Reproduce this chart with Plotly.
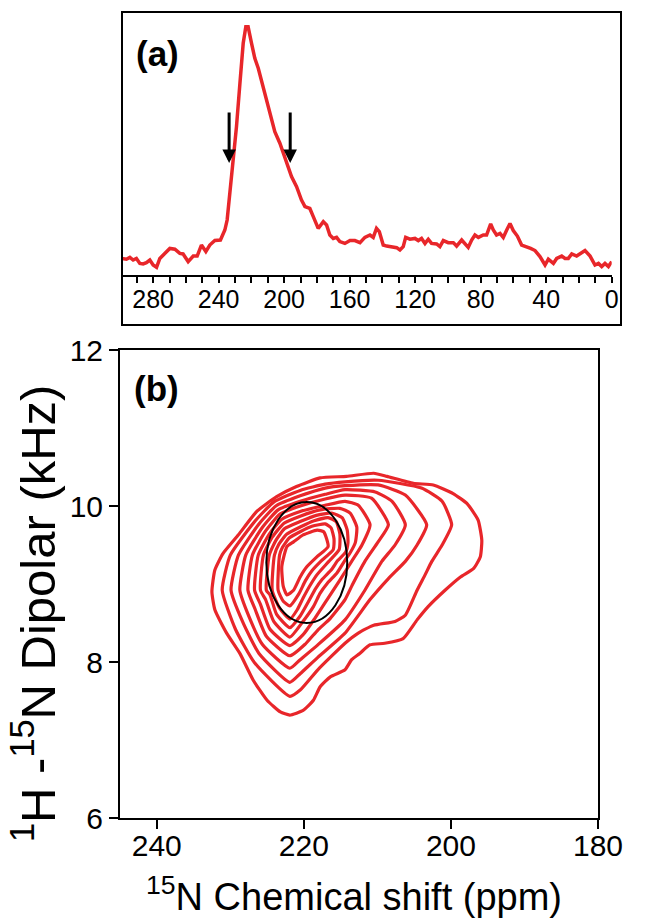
import plotly.graph_objects as go

RED = "#E8262A"
FONT = "Liberation Sans, Arial, sans-serif"

# ---------------- Panel (a): 1D 15N spectrum ----------------
spec_ppm = [299.1, 296.3, 294.2, 292.2, 290.2, 288.1, 286.1, 284.1, 282.0, 280.0,
            277.9, 275.9, 272.9, 269.8, 266.7, 263.7, 261.7, 258.6, 255.5, 253.1,
            250.5, 247.8, 245.4, 242.3, 238.9, 236.2, 234.8, 233.2, 231.1, 229.1,
            227.0, 225.0, 223.4, 222.0, 219.9, 217.9, 215.8, 212.8, 210.8, 208.7,
            205.7, 202.6, 199.6, 195.5, 192.4, 189.4, 187.3, 184.3, 182.2, 179.2,
            176.1, 174.1, 172.1, 170.0, 168.0, 166.0, 162.9, 159.8, 156.8, 153.7,
            150.7, 147.6, 145.6, 143.6, 141.9, 139.5, 137.4, 134.4, 131.3, 129.3,
            127.3, 125.8, 123.2, 120.1, 118.1, 116.1, 114.0, 112.0, 110.0, 106.9,
            104.9, 102.8, 99.8, 96.7, 94.7, 91.6, 89.6, 87.6, 85.5, 83.5,
            81.4, 78.4, 76.4, 73.9, 72.3, 70.3, 68.2, 66.2, 64.1, 62.1,
            60.1, 57.6, 55.0, 51.9, 49.5, 46.8, 43.8, 40.7, 38.7, 35.6,
            33.6, 30.5, 28.5, 26.5, 24.4, 21.4, 19.3, 16.3, 13.2, 10.2,
            8.1, 6.1, 4.1, 2.0, 0.0]
spec_int = [6.3, 6.0, 6.7, 5.7, 6.3, 4.4, 4.2, 4.7, 5.7, 3.8,
            2.9, 6.3, 8.2, 10.1, 9.8, 8.2, 8.0, 5.1, 7.2, 7.2,
            11.4, 8.9, 11.4, 13.1, 13.3, 17.1, 20.9, 31.1, 42.5, 56.4,
            72.9, 88.1, 94.4, 94.4, 88.1, 82.4, 78.6, 71.6, 66.5, 61.5,
            54.5, 50.1, 45.0, 37.4, 33.6, 28.5, 26.0, 25.3, 22.2, 17.7,
            20.3, 19.0, 15.2, 13.9, 14.3, 12.7, 12.0, 13.1, 13.1, 12.3,
            14.3, 15.2, 14.3, 17.7, 16.5, 11.4, 11.0, 10.8, 10.4, 9.5,
            10.8, 14.3, 13.6, 13.9, 13.1, 13.9, 12.0, 13.6, 12.0, 11.8,
            10.8, 13.1, 12.3, 12.3, 11.0, 13.3, 12.0, 10.5, 13.3, 15.2,
            14.3, 15.2, 15.2, 19.4, 17.1, 15.2, 15.8, 14.3, 17.1, 19.6,
            16.9, 14.8, 11.4, 10.8, 10.1, 9.3, 7.0, 3.8, 6.0, 4.4,
            6.3, 7.2, 6.3, 6.3, 8.0, 7.2, 8.0, 9.3, 7.2, 3.8,
            4.4, 3.2, 4.4, 3.2, 5.1]

arrow_ppm = [233.6, 196.3]
arrow_tail = 62.4
arrow_head = 42.6

top_tickvals = list(range(0, 300, 10))
top_ticktext = [str(v) if v % 40 == 0 else "" for v in top_tickvals]

# ---------------- Panel (b): 2D PISEMA contours (outer c0 -> inner c10) ----------------
c0_x = [232.5, 232.1, 231.0, 228.9, 226.4, 223.7, 221.0, 217.8, 214.2, 210.5, 208.7, 205.1, 202.4,
        199.7, 197.8, 196.3, 195.8, 196.0, 196.9, 198.7, 200.8, 203.1, 204.6, 206.5, 209.0, 211.0,
        212.4, 213.5, 214.4, 216.4, 217.8, 218.7, 220.1, 221.9, 223.2, 225.0, 226.9, 228.7, 230.5, 232.1]
c0_y = [8.90, 9.18, 9.39, 9.63, 9.93, 10.12, 10.25, 10.36, 10.38, 10.42, 10.38, 10.29, 10.27,
        10.16, 10.03, 9.82, 9.56, 9.35, 9.20, 9.09, 8.92, 8.71, 8.54, 8.30, 8.24, 8.22,
        8.11, 8.03, 7.90, 7.81, 7.68, 7.51, 7.38, 7.32, 7.36, 7.51, 7.77, 8.11, 8.37, 8.67]
c1_x = [231.1, 230.0, 226.6, 224.1, 220.5, 217.1, 214.4, 209.9, 204.0, 201.2, 199.9, 201.2, 202.6,
        203.5, 204.6, 206.2, 207.6, 210.5, 212.6, 214.4, 218.1, 220.5, 221.9, 226.7, 229.3]
c1_y = [8.92, 9.37, 9.81, 10.05, 10.20, 10.28, 10.31, 10.33, 10.23, 10.06, 9.76, 9.50, 9.29,
        9.12, 8.92, 8.60, 8.52, 8.47, 8.37, 8.24, 7.90, 7.64, 7.56, 7.99, 8.42]
c2_x = [229.9, 228.9, 226.1, 223.8, 220.5, 217.1, 214.4, 209.9, 206.2, 203.3, 204.6, 206.2, 208.5,
        211.0, 214.4, 218.1, 220.5, 221.9, 226.1, 228.3]
c2_y = [8.92, 9.37, 9.77, 10.00, 10.13, 10.23, 10.26, 10.27, 10.14, 9.76, 9.50, 9.29, 9.07,
        8.80, 8.37, 8.06, 7.85, 7.74, 8.11, 8.51]
c3_x = [228.7, 227.9, 225.6, 223.5, 220.5, 217.1, 214.4, 210.3, 208.0, 206.2, 207.6, 209.4, 211.7,
        214.4, 218.1, 220.5, 221.9, 225.6, 227.5]
c3_y = [8.92, 9.37, 9.73, 9.95, 10.06, 10.15, 10.21, 10.18, 10.06, 9.76, 9.50, 9.29, 8.92,
        8.54, 8.22, 8.03, 7.92, 8.22, 8.59]
c4_x = [227.6, 227.0, 225.2, 223.2, 220.5, 217.1, 214.4, 210.8, 208.5, 209.9, 211.7, 213.4, 214.4,
        216.4, 218.1, 219.8, 221.9, 225.1, 226.6]
c4_y = [8.92, 9.37, 9.68, 9.90, 10.00, 10.09, 10.14, 10.10, 9.76, 9.54, 9.29, 8.99, 8.80,
        8.56, 8.41, 8.23, 8.08, 8.33, 8.67]
c5_x = [226.7, 226.2, 224.7, 223.0, 220.5, 217.1, 214.4, 212.6, 211.0, 212.1, 213.5, 215.1, 216.7,
        218.5, 220.1, 221.9, 224.6, 225.9]
c5_y = [8.92, 9.37, 9.64, 9.83, 9.93, 10.01, 10.06, 10.01, 9.76, 9.50, 9.29, 9.05, 8.82,
        8.56, 8.35, 8.21, 8.42, 8.74]
c6_x = [225.9, 225.5, 224.3, 222.7, 220.5, 217.8, 215.1, 213.7, 212.8, 213.0, 213.7, 214.5, 215.5,
        216.8, 217.8, 218.7, 220.2, 221.9, 224.1, 225.2]
c6_y = [8.92, 9.37, 9.60, 9.78, 9.87, 9.95, 9.97, 9.91, 9.73, 9.53, 9.40, 9.29, 9.14,
        9.01, 8.88, 8.71, 8.51, 8.32, 8.52, 8.80]
c7_x = [225.1, 224.7, 223.8, 222.6, 220.5, 218.3, 216.2, 214.8, 214.1, 214.0, 214.3, 215.4, 216.2,
        217.5, 218.4, 219.4, 220.5, 221.9, 223.7, 224.6]
c7_y = [8.92, 9.37, 9.56, 9.71, 9.80, 9.88, 9.91, 9.85, 9.69, 9.53, 9.41, 9.30, 9.19,
        9.06, 8.94, 8.77, 8.59, 8.44, 8.61, 8.86]
c8_x = [224.3, 224.0, 223.4, 222.3, 220.5, 218.6, 216.7, 215.6, 215.1, 215.2, 216.6, 218.2, 219.1,
        220.1, 220.9, 221.9, 223.3]
c8_y = [8.92, 9.37, 9.51, 9.64, 9.73, 9.81, 9.85, 9.80, 9.64, 9.44, 9.29, 9.12, 8.99,
        8.82, 8.67, 8.55, 8.69]
c9_x = [223.5, 223.3, 222.9, 222.0, 220.5, 218.9, 217.1, 216.3, 215.9, 216.0, 217.7, 218.9, 219.8,
        220.7, 221.9, 222.8]
c9_y = [8.92, 9.37, 9.47, 9.59, 9.67, 9.74, 9.77, 9.72, 9.58, 9.44, 9.29, 9.17, 9.04,
        8.87, 8.72, 8.78]
c10_x = [218.2, 217.3, 216.7, 218.2, 219.6, 220.5, 221.4, 222.3, 222.8, 223.0, 222.3, 221.4, 220.1]
c10_y = [9.69, 9.67, 9.48, 9.35, 9.22, 9.09, 8.92, 8.86, 8.97, 9.22, 9.48, 9.54, 9.63]

contours = [(c0_x, c0_y), (c1_x, c1_y), (c2_x, c2_y), (c3_x, c3_y), (c4_x, c4_y), (c5_x, c5_y),
            (c6_x, c6_y), (c7_x, c7_y), (c8_x, c8_y), (c9_x, c9_y), (c10_x, c10_y)]

ellipse_x = [225.1, 214.1]
ellipse_y = [8.50, 10.05]

bottom_xticks = [240, 220, 200, 180]
bottom_yticks = [6, 8, 10, 12]

W, H = 654, 919


def px_x(p):
    return p / W


def px_y(p):
    return (H - p) / H


fig = go.Figure()

fig.add_trace(go.Scatter(x=spec_ppm, y=spec_int, mode="lines",
                         line=dict(color=RED, width=3.5), xaxis="x", yaxis="y",
                         showlegend=False, hoverinfo="skip"))

for cx, cy in contours:
    fig.add_trace(go.Scatter(x=cx + [cx[0]], y=cy + [cy[0]], mode="lines",
                             line=dict(color=RED, width=3.2, shape="spline", smoothing=0.5),
                             xaxis="x2", yaxis="y2", showlegend=False, hoverinfo="skip"))

shapes = [
    dict(type="rect", xref="paper", yref="paper",
         x0=px_x(122), x1=px_x(621), y0=px_y(325), y1=px_y(12),
         line=dict(color="black", width=2)),
    dict(type="circle", xref="x2", yref="y2",
         x0=ellipse_x[0], x1=ellipse_x[1], y0=ellipse_y[0], y1=ellipse_y[1],
         line=dict(color="black", width=2)),
]

annotations = []
for a in arrow_ppm:
    annotations.append(dict(x=a, y=arrow_head, ax=a, ay=arrow_tail, xref="x", yref="y",
                            axref="x", ayref="y", text="", showarrow=True,
                            arrowhead=2, arrowsize=0.9, arrowwidth=3, arrowcolor="black"))

annotations += [
    dict(text="<b>(a)</b>", x=px_x(134), y=px_y(54), xref="paper", yref="paper",
         xanchor="left", yanchor="middle", showarrow=False,
         font=dict(family=FONT, size=35, color="black")),
    dict(text="<b>(b)</b>", x=px_x(132), y=px_y(388), xref="paper", yref="paper",
         xanchor="left", yanchor="middle", showarrow=False,
         font=dict(family=FONT, size=35, color="black")),
    dict(text="<sup>15</sup>N Chemical shift (ppm)", x=px_x(354), y=px_y(894),
         xref="paper", yref="paper", xanchor="center", yanchor="middle", showarrow=False,
         font=dict(family=FONT, size=38, color="black")),
    dict(text="<sup>1</sup>H -<sup>15</sup>N Dipolar (kHz)", x=px_x(34), y=px_y(614),
         xref="paper", yref="paper", xanchor="center", yanchor="middle", showarrow=False,
         textangle=-90, font=dict(family=FONT, size=49, color="black")),
]

fig.update_layout(
    width=W, height=H, margin=dict(l=0, r=0, t=0, b=0, pad=0, autoexpand=False),
    paper_bgcolor="white", plot_bgcolor="white",
    font=dict(family=FONT, color="black"),
    shapes=shapes, annotations=annotations, showlegend=False,
    xaxis=dict(domain=[px_x(122), px_x(611.7)], range=[299, 0], anchor="y", automargin=False,
               showline=True, linecolor="black", linewidth=2, showgrid=False, zeroline=False,
               ticks="outside", ticklen=6, tickwidth=2, tickcolor="black",
               ticklabelstandoff=-5,
               tickmode="array", tickvals=top_tickvals, ticktext=top_ticktext,
               tickfont=dict(family=FONT, size=25, color="black")),
    yaxis=dict(domain=[px_y(275), px_y(12)], range=[0, 100], anchor="x", visible=False,
               automargin=False),
    xaxis2=dict(domain=[px_x(120), px_x(598)], range=[245, 180], anchor="y2", automargin=False,
                showline=True, mirror=True, linecolor="black", linewidth=2, showgrid=False,
                zeroline=False, ticks="outside", ticklen=9, tickwidth=2, tickcolor="black",
                ticklabelstandoff=-9,
                tickmode="array", tickvals=bottom_xticks,
                tickfont=dict(family=FONT, size=30, color="black")),
    yaxis2=dict(domain=[px_y(818), px_y(350)], range=[6, 12], anchor="x2", automargin=False,
                showline=True, mirror=True, linecolor="black", linewidth=2, showgrid=False,
                zeroline=False, ticks="outside", ticklen=9, tickwidth=2, tickcolor="black",
                tickmode="array", tickvals=bottom_yticks,
                tickfont=dict(family=FONT, size=30, color="black")),
)

fig.write_html(
    "out.html",
    config={"displayModeBar": False, "responsive": False},
    post_script=("document.documentElement.style.margin='0';"
                 "document.body.style.margin='0';document.body.style.padding='0';"
                 "document.documentElement.style.overflow='hidden';"
                 "document.body.style.overflow='hidden';"),
)
